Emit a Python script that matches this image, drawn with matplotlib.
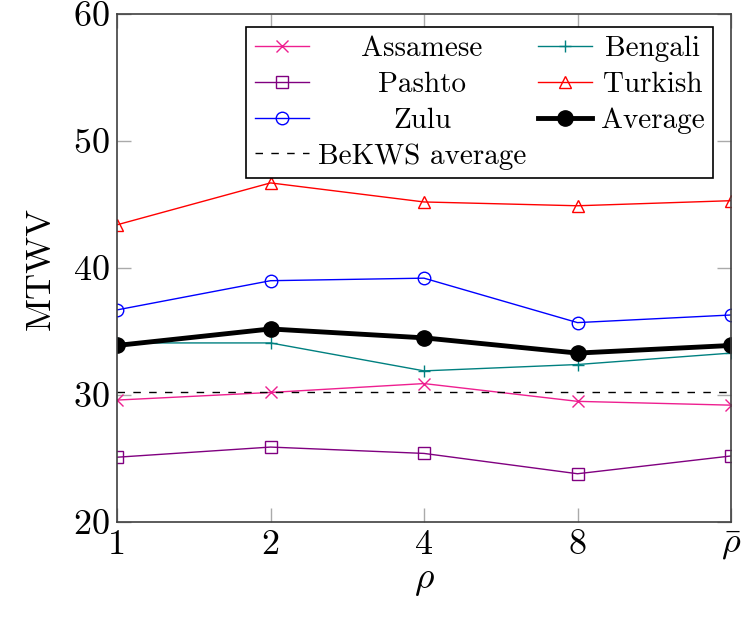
import matplotlib
matplotlib.use("Agg")
import matplotlib.pyplot as plt

plt.rcParams["font.family"] = ["cmr10", "DejaVu Serif"]
plt.rcParams["mathtext.fontset"] = "cm"
plt.rcParams["axes.formatter.use_mathtext"] = True
plt.rcParams["axes.unicode_minus"] = False

# data
rho_labels = ["1", "2", "4", "8", r"$\bar{\rho}$"]
assamese = [29.6, 30.2, 30.9, 29.5, 29.2]
bengali = [34.1, 34.1, 31.9, 32.4, 33.3]
pashto = [25.1, 25.9, 25.4, 23.8, 25.2]
turkish = [43.4, 46.7, 45.2, 44.9, 45.3]
zulu = [36.7, 39.0, 39.2, 35.7, 36.3]
average = [33.9, 35.2, 34.5, 33.3, 33.9]
bekws_average = 30.2

x = list(range(len(rho_labels)))

fig = plt.figure(figsize=(7.44, 6.21), dpi=100)
ax = fig.add_axes([117 / 744, 99 / 621, 614 / 744, 508 / 621])

thin = dict(lw=1.0, ms=9, mew=1.0, mfc="none")
ax.plot(x, assamese, color="#ee1f90", marker="x", label="Assamese", **thin)
ax.plot(x, pashto, color="#800080", marker="s", label="Pashto", **thin)
ax.plot(x, zulu, color="#0000ff", marker="o", label="Zulu", **thin)
ax.axhline(bekws_average, color="black", lw=1.0, ls=(0, (5.4, 6.0)),
           label="BeKWS average")
ax.plot(x, bengali, color="#008080", marker="+", label="Bengali", **thin)
ax.plot(x, turkish, color="#ff0000", marker="^", label="Turkish", **thin)
ax.plot(x, average, color="black", marker="o", lw=3.5, ms=11,
        label="Average")

ax.set_xlim(0, 4)
ax.set_ylim(20, 60)
ax.set_xticks(x)
ax.set_xticklabels(rho_labels)
ax.set_yticks([20, 30, 40, 50, 60])
ax.tick_params(direction="in", length=10, width=1.0, color="#aaaaaa",
               top=True, right=True, labelsize=26, pad=5)
for s in ax.spines.values():
    s.set_color("#404040")
    s.set_linewidth(1.2)

ax.set_xlabel(r"$\rho$", fontsize=27, labelpad=2)
ax.set_ylabel("MTWV", fontsize=26, labelpad=12)

leg = ax.legend(ncol=2, loc="upper right", bbox_to_anchor=(0.971, 0.974),
                borderaxespad=0, fontsize=21, frameon=True, fancybox=False,
                framealpha=1, edgecolor="black", handlelength=1.85,
                columnspacing=0.4, labelspacing=0.32, borderpad=0.3,
                handletextpad=0.3)
leg.get_frame().set_linewidth(1.2)

# pgfplots centres the legend texts inside each column
fig.canvas.draw()
texts = leg.get_texts()
for col in (texts[:4], texts[4:]):
    widths = [t.get_window_extent().width for t in col]
    wmax = max(widths)
    for t, w in zip(col, widths):
        t.set_x((wmax - w) / 2)

fig.savefig("out.png", dpi=100)
